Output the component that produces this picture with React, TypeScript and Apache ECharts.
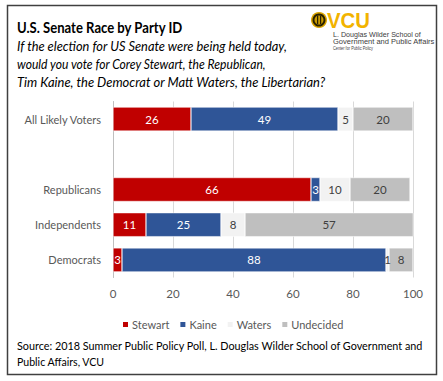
import React, { useEffect, useRef } from "react";
import * as echarts from "echarts";

const categories = ["Democrats", "Independents", "Republicans", "", "All Likely Voters"];
const stewart = [3, 11, 66, null, 26];
const kaine = [88, 25, 3, null, 49];
const waters = [1, 8, 10, null, 5];
const undecided = [8, 57, 20, null, 20];
const xTicks = [0, 20, 40, 60, 80, 100];
const seriesNames = ["Stewart", "Kaine", "Waters", "Undecided"];
const seriesColors = ["#C00000", "#2F5597", "#F2F2F2", "#BFBFBF"];
const labelColors = ["#FFFFFF", "#FFFFFF", "#404040", "#404040"];

const titleText = "U.S. Senate Race by Party ID";
const subtitleLines = [
  "If the election for US Senate were being held today,",
  "would you vote for Corey Stewart, the Republican,",
  "Tim Kaine, the Democrat or Matt Waters, the Libertarian?",
];
const sourceLines = [
  "Source: 2018 Summer Public Policy Poll, L. Douglas Wilder School of Government and",
  "Public Affairs, VCU",
];
const logoLines = ["L. Douglas Wilder School of", "Government and Public Affairs", "Center for Public Policy"];

const FONT = "Lato";

function measure(text: string, font: string): number {
  const c = document.createElement("canvas");
  const ctx = c.getContext("2d")!;
  ctx.font = font;
  return ctx.measureText(text).width;
}

function fitText(text: string, font: string, x: number, y: number, width: number, fill: string) {
  const w = measure(text, font);
  const s = w > 0 ? width / w : 1;
  return {
    type: "text",
    x,
    y,
    scaleX: s,
    style: { text, font, fill, textVerticalAlign: "middle" },
  };
}

export default function App() {
  const ref = useRef<HTMLDivElement>(null);
  useEffect(() => {
    document.body.style.margin = "0";
    const chart = echarts.init(ref.current!, null, { renderer: "svg" });
    const data = [stewart, kaine, waters, undecided];
    const subFont = `italic 13px ${FONT}`;
    const srcFont = `12px ${FONT}`;
    const logoFont = "8px 'Liberation Sans'";
    chart.setOption({
      animation: false,
      backgroundColor: "#FFFFFF",
      textStyle: { fontFamily: FONT },
      grid: { left: 113, right: 30, top: 101.5, bottom: 103.5, containLabel: false },
      xAxis: {
        type: "value",
        min: xTicks[0],
        max: xTicks[xTicks.length - 1],
        interval: 20,
        axisLine: { show: false },
        axisTick: { show: false },
        splitLine: { lineStyle: { color: "#D9D9D9", width: 1 } },
        axisLabel: { color: "#595959", fontSize: 11.5, fontFamily: FONT, margin: 10 },
      },
      yAxis: {
        type: "category",
        data: categories,
        axisLine: { show: true, lineStyle: { color: "#BFBFBF" } },
        axisTick: { show: false },
        axisLabel: { color: "#595959", fontSize: 11, fontFamily: FONT, margin: 12 },
      },
      legend: {
        data: seriesNames,
        left: 116,
        top: 314,
        itemWidth: 7,
        itemHeight: 7,
        itemGap: 9,
        icon: "rect",
        textStyle: { color: "#595959", fontSize: 11, fontFamily: FONT, padding: [0, 0, 0, -2] },
      },
      series: seriesNames.map((name, i) => ({
        name,
        type: "bar",
        stack: "total",
        barWidth: 24,
        data: data[i],
        itemStyle: { color: seriesColors[i], borderColor: "#FFFFFF", borderWidth: 0.5 },
        label: {
          show: true,
          position: "inside",
          color: labelColors[i],
          fontSize: 11.5,
          fontFamily: FONT,
        },
      })),
      graphic: [
        {
          type: "rect",
          shape: { x: 7.5, y: 5.5, width: 429, height: 369 },
          style: { fill: "none", stroke: "#404040", lineWidth: 1.5 },
        },
        fitText(titleText, `bold 15px ${FONT}`, 17, 27, 166, "#000"),
        fitText(subtitleLines[0], subFont, 17, 46, 271, "#000"),
        fitText(subtitleLines[1], subFont, 17, 64, 250, "#000"),
        fitText(subtitleLines[2], subFont, 17, 82, 309, "#000"),
        { type: "circle", shape: { cx: 319, cy: 20, r: 8 }, style: { fill: "#D9A400" } },
        { type: "circle", shape: { cx: 319, cy: 20, r: 6.5 }, style: { fill: "#2A2200" } },
        { type: "circle", shape: { cx: 319, cy: 20, r: 4.5 }, style: { fill: "#C99A00" } },
        { type: "rect", shape: { x: 317, y: 16, width: 1.2, height: 8 }, style: { fill: "#2A2200" } },
        { type: "rect", shape: { x: 320, y: 16, width: 1.2, height: 8 }, style: { fill: "#2A2200" } },
        fitText("VCU", "bold 22px 'Liberation Sans'", 327, 20.5, 43, "#F2B300"),
        fitText(logoLines[0], logoFont, 333, 34, 88, "#404040"),
        fitText(logoLines[1], logoFont, 333, 41.5, 102, "#404040"),
        fitText(logoLines[2], "5px 'Liberation Sans'", 333, 48, 40, "#404040"),
        fitText(sourceLines[0], srcFont, 17, 345, 407, "#000"),
        fitText(sourceLines[1], srcFont, 17, 361, 88, "#000"),
      ],
    });
    return () => chart.dispose();
  }, []);
  return <div ref={ref} style={{ width: 443, height: 381 }} />;
}
